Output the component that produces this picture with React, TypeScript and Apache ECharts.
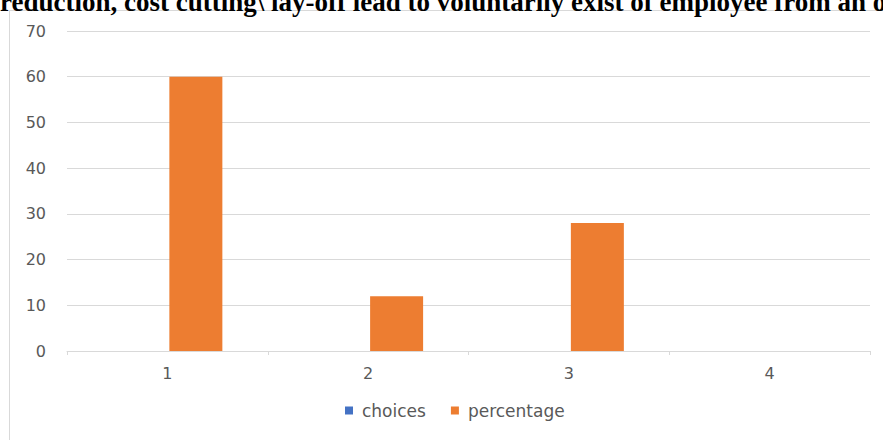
import React, { useEffect, useRef } from "react";
import * as echarts from "echarts";

const categories = ["1", "2", "3", "4"];
const choicesValues = [0, 0, 0, 0];
const percentageValues = [60, 12, 28, 0];
const seriesNames = ["choices", "percentage"];
const titleText =
  "reduction, cost cutting\\ lay-off lead to voluntarily exist of employee from an organization";

export default function App() {
  const ref = useRef<HTMLDivElement>(null);
  useEffect(() => {
    if (!ref.current) return;
    const chart = echarts.init(ref.current, undefined, { renderer: "svg" });
    const labelFont = { color: "#595959", fontSize: 16, fontFamily: "DejaVu Sans" };
    chart.setOption({
      animation: false,
      backgroundColor: "#ffffff",
      graphic: [
        {
          type: "rect",
          shape: { x: 9.5, y: 10.5, width: 900, height: 460 },
          style: { fill: "none", stroke: "#d9d9d9", lineWidth: 1 },
          z: -1,
        },
        {
          type: "text",
          x: 0,
          y: 15,
          style: {
            text: titleText,
            font: "bold 27px 'Liberation Serif', serif",
            fill: "#000000",
            verticalAlign: "bottom",
          },
        },
      ],
      legend: {
        data: seriesNames,
        bottom: 16,
        left: 340,
        icon: "rect",
        itemWidth: 8,
        itemHeight: 8,
        itemGap: 25,
        textStyle: { ...labelFont, fontSize: 17, padding: [0, 0, 0, 4] },
      },
      grid: { left: 67, right: 13, top: 31, bottom: 89, containLabel: false },
      xAxis: {
        type: "category",
        data: categories,
        axisLine: { lineStyle: { color: "#d9d9d9", width: 1 } },
        axisTick: { show: true, length: 4, lineStyle: { color: "#d9d9d9" } },
        axisLabel: { ...labelFont, margin: 14 },
      },
      yAxis: {
        type: "value",
        min: 0,
        max: 70,
        interval: 10,
        axisLine: { show: false },
        axisTick: { show: false },
        splitLine: { lineStyle: { color: "#d9d9d9", width: 1 } },
        axisLabel: { ...labelFont, margin: 21 },
      },
      series: [
        {
          name: seriesNames[0],
          type: "bar",
          data: choicesValues,
          barWidth: 53,
          barGap: "7.5%",
          itemStyle: { color: "#4472C4" },
        },
        {
          name: seriesNames[1],
          type: "bar",
          data: percentageValues,
          barWidth: 53,
          barGap: "7.5%",
          itemStyle: { color: "#ED7D31" },
        },
      ],
    });
    return () => chart.dispose();
  }, []);
  return (
    <div
      ref={ref}
      style={{ position: "fixed", left: 0, top: 0, width: 883, height: 440 }}
    />
  );
}
